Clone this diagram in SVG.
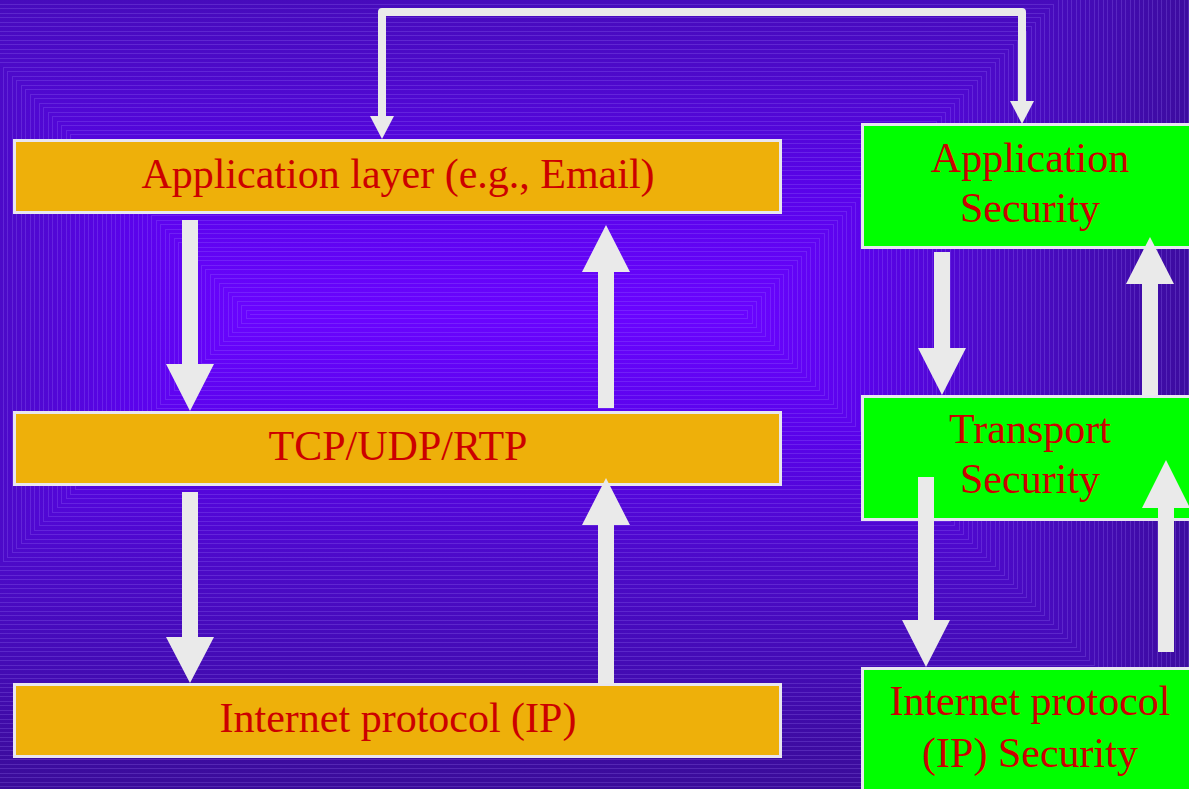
<svg xmlns="http://www.w3.org/2000/svg" width="1189" height="789" viewBox="0 0 1189 789">
  <style>
    .bx-o { fill: #EEB00A; stroke: #E8E6F0; stroke-width: 3; }
    .bx-g { fill: #00FF00; stroke: #E8E6F0; stroke-width: 3; }
    .lbl { font-family: "Liberation Serif", "Times New Roman", serif; font-size: 42px; fill: #CC0000; text-anchor: middle; }
    .blk { fill: #EAEAEA; }
    .link { fill: none; stroke: #EAEAEA; stroke-width: 8; stroke-linejoin: round; }
    .stripe { fill: #A888FF; fill-opacity: 0.22; }
  </style>
  <defs>
    <!-- rectangular background shading: one gradient per side, running outward from the centre segment -->
    <linearGradient id="gTop" gradientUnits="userSpaceOnUse" x1="0" y1="314" x2="0" y2="-166">
      <stop offset="0" stop-color="#6A04FF"/>
      <stop offset="0.25" stop-color="#5A03EA"/>
      <stop offset="0.52" stop-color="#4C0AC8"/>
      <stop offset="0.7" stop-color="#450BB8"/>
      <stop offset="1" stop-color="#3A0C98"/>
    </linearGradient>
    <linearGradient id="gBot" href="#gTop" x1="0" y1="314" x2="0" y2="794"/>
    <linearGradient id="gLeft" href="#gTop" x1="250" y1="0" x2="-230" y2="0"/>
    <linearGradient id="gRight" href="#gTop" x1="743" y1="0" x2="1223" y2="0"/>
    <!-- fine concentric lines -->
    <pattern id="hTop" patternUnits="userSpaceOnUse" x="0" y="4" width="9" height="9">
      <rect class="stripe" x="0" y="0" width="9" height="1"/>
      <rect class="stripe" x="0" y="4" width="9" height="1"/>
    </pattern>
    <pattern id="hBot" patternUnits="userSpaceOnUse" x="0" y="8" width="9" height="9">
      <rect class="stripe" x="0" y="0" width="9" height="1"/>
      <rect class="stripe" x="0" y="4" width="9" height="1"/>
    </pattern>
    <pattern id="vLeft" patternUnits="userSpaceOnUse" x="3" y="0" width="9" height="9">
      <rect class="stripe" x="0" y="0" width="1" height="9"/>
      <rect class="stripe" x="4" y="0" width="1" height="9"/>
    </pattern>
    <pattern id="vRight" patternUnits="userSpaceOnUse" x="5" y="0" width="9" height="9">
      <rect class="stripe" x="0" y="0" width="1" height="9"/>
      <rect class="stripe" x="4" y="0" width="1" height="9"/>
    </pattern>
    <marker id="head" markerUnits="userSpaceOnUse" viewBox="0 0 23 24" refX="0" refY="12" markerWidth="23" markerHeight="24" orient="auto-start-reverse">
      <polygon points="0,0 23,12 0,24" fill="#EAEAEA"/>
    </marker>
  </defs>

  <!-- background -->
  <g id="background">
    <rect x="0" y="0" width="1189" height="789" fill="#4E09C8"/>
    <g shape-rendering="crispEdges">
      <polygon points="-750,-686 1743,-686 743,314 250,314" fill="url(#gTop)"/>
      <polygon points="250,314 743,314 1743,1314 -750,1314" fill="url(#gBot)"/>
      <polygon points="-750,-686 250,314 -750,1314" fill="url(#gLeft)"/>
      <polygon points="1743,-686 1743,1314 743,314" fill="url(#gRight)"/>
      <polygon points="-750,-686 1743,-686 743,314 250,314" fill="url(#hTop)"/>
      <polygon points="250,314 743,314 1743,1314 -750,1314" fill="url(#hBot)"/>
      <polygon points="-750,-686 250,314 -750,1314" fill="url(#vLeft)"/>
      <polygon points="1743,-686 1743,1314 743,314" fill="url(#vRight)"/>
    </g>
  </g>

  <!-- protocol stack -->
  <g id="app-layer">
    <rect class="bx-o" x="14.5" y="140.5" width="766" height="72"/>
    <text class="lbl" x="398" y="188">Application layer (e.g., Email)</text>
  </g>
  <g id="transport-layer">
    <rect class="bx-o" x="14.5" y="412.5" width="766" height="72"/>
    <text class="lbl" x="398" y="460">TCP/UDP/RTP</text>
  </g>
  <g id="ip-layer">
    <rect class="bx-o" x="14.5" y="684.5" width="766" height="72"/>
    <text class="lbl" x="398" y="732">Internet protocol (IP)</text>
  </g>

  <!-- security stack -->
  <g id="app-security">
    <rect class="bx-g" x="862.5" y="124.5" width="336" height="123"/>
    <text class="lbl" x="1030" y="172">Application</text>
    <text class="lbl" x="1030" y="222">Security</text>
  </g>
  <g id="transport-security">
    <rect class="bx-g" x="862.5" y="396.5" width="336" height="123"/>
    <text class="lbl" x="1030" y="443">Transport</text>
    <text class="lbl" x="1030" y="493">Security</text>
  </g>
  <g id="ip-security">
    <rect class="bx-g" x="862.5" y="668.5" width="336" height="130"/>
    <text class="lbl" x="1030" y="715">Internet protocol</text>
    <text class="lbl" x="1030" y="767">(IP) Security</text>
  </g>

  <!-- connectors -->
  <g id="connectors">
    <path class="link" d="M382,116 V12 H1022 V101" marker-start="url(#head)" marker-end="url(#head)"/>
    <!-- left column -->
    <polygon class="blk" points="182,220 198,220 198,364 214,364 190,411 166,364 182,364"/>
    <polygon class="blk" points="182,492 198,492 198,637 214,637 190,683 166,637 182,637"/>
    <polygon class="blk" points="606,225 630,272 614,272 614,408 598,408 598,272 582,272"/>
    <polygon class="blk" points="606,478 630,525 614,525 614,684 598,684 598,525 582,525"/>
    <!-- right column -->
    <polygon class="blk" points="934,252 950,252 950,348 966,348 942,395 918,348 934,348"/>
    <polygon class="blk" points="1150,237 1174,284 1158,284 1158,395 1142,395 1142,284 1126,284"/>
    <polygon class="blk" points="918,477 934,477 934,620 950,620 926,667 902,620 918,620"/>
    <polygon class="blk" points="1166,460 1190,508 1174,508 1174,652 1158,652 1158,508 1142,508"/>
  </g>
</svg>
